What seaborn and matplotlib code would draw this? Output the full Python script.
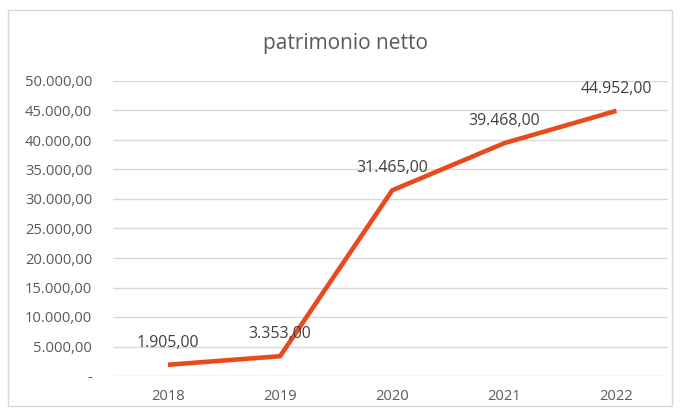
import matplotlib
matplotlib.use("Agg")
import matplotlib.pyplot as plt
import seaborn as sns
import pandas as pd
from matplotlib.patches import Rectangle

years = ["2018", "2019", "2020", "2021", "2022"]
values = [1905.00, 3353.00, 31465.00, 39468.00, 44952.00]
labels = ["1.905,00", "3.353,00", "31.465,00", "39.468,00", "44.952,00"]
yticks = [0, 5000, 10000, 15000, 20000, 25000, 30000, 35000, 40000, 45000, 50000]
ytick_labels = ["-", "5.000,00", "10.000,00", "15.000,00", "20.000,00", "25.000,00",
                "30.000,00", "35.000,00", "40.000,00", "45.000,00", "50.000,00"]
title = "patrimonio netto"

sns.set_theme(style="white")
plt.rcParams['font.family'] = ['Open Sans', 'DejaVu Sans']

W, H = 681, 412
fig = plt.figure(figsize=(W / 100, H / 100), dpi=100)
ax = fig.add_axes([113 / W, (H - 376) / H, (668 - 113) / W, (376 - 81) / H])

df = pd.DataFrame({"year": years, "value": values})
df["x"] = range(len(years))
sns.lineplot(data=df, x="x", y="value", ax=ax, color="#E84A1E", linewidth=3.3,
             solid_capstyle="butt")

ax.set_xlim(-0.49, 4.46)
ax.set_ylim(0, 50000)
ax.set_yticks(yticks)
ax.set_yticklabels(ytick_labels)
ax.set_xticks(df["x"])
ax.set_xticklabels(years)
ax.set_xlabel("")
ax.set_ylabel("")
ax.grid(axis="y", color="#D9D9D9", linewidth=1)
ax.set_axisbelow(True)
for s in ax.spines.values():
    s.set_visible(False)
ax.tick_params(axis="both", length=0, labelsize=10.6, labelcolor="#595959")
ax.tick_params(axis="y", pad=15)
ax.tick_params(axis="x", pad=9)
for lab in ax.get_yticklabels():
    lab.set_horizontalalignment("right")

for xi, v, lab in zip(df["x"], values, labels):
    ax.annotate(lab, (xi, v), xytext=(0, 16), textcoords="offset points",
                ha="center", va="center", fontsize=11.4, color="#404040")

fig.text(346 / W, 1 - 44 / H, title, ha="center", va="center", fontsize=15, color="#595959")

fig.patches.append(Rectangle((8 / W, (H - 406) / H), (672 - 8) / W, (406 - 10) / H,
                             transform=fig.transFigure, fill=False,
                             edgecolor="#D9D9D9", linewidth=1))

fig.savefig("out.png", dpi=100)
